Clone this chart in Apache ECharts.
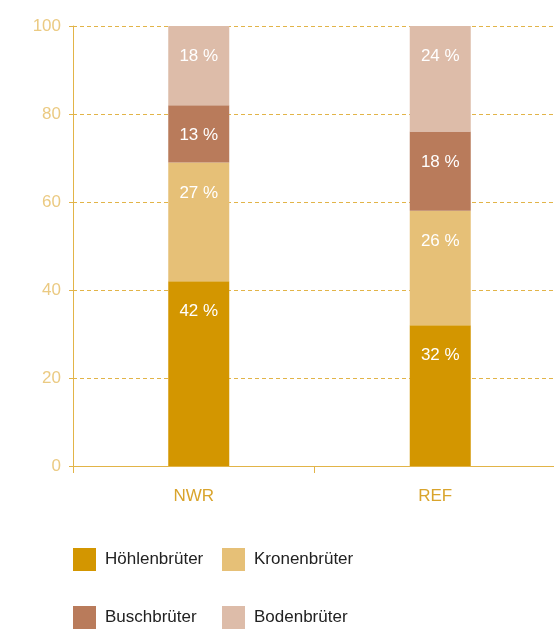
<!DOCTYPE html>
<html>
<head>
<meta charset="utf-8">
<script src="https://cdn.jsdelivr.net/npm/echarts@6/dist/echarts.min.js"></script>
<style>
html,body{margin:0;padding:0;background:#fff;overflow:hidden;}
#chart{width:562px;height:632px;}
</style>
</head>
<body>
<div id="chart"></div>
<script>
var categories = ['NWR', 'REF'];
var seriesNames = ['Höhlenbrüter', 'Kronenbrüter', 'Buschbrüter', 'Bodenbrüter'];
var hoehlen = [42, 32];
var kronen = [27, 26];
var busch = [13, 18];
var boden = [18, 24];
var yTicks = [0, 20, 40, 60, 80, 100];

var colors = ['#d39600', '#e6c077', '#b97b5b', '#ddbca9'];
var FONT = '"Liberation Sans", Arial, sans-serif';
var values = [hoehlen, kronen, busch, boden];
var GOLD = '#e2b448';

var chart = echarts.init(document.getElementById('chart'), null, {renderer: 'canvas'});

// empty spacer stack: draws nothing, only nudges the real stack slightly right of the band centre
var series = [{
  name: 'spacer',
  type: 'bar',
  stack: 'spacer',
  barWidth: 61,
  barGap: '-83.6%',
  data: [null, null],
  silent: true,
  label: {show: false}
}];

seriesNames.forEach(function (name, i) {
  series.push({
    name: name,
    type: 'bar',
    stack: 'total',
    barWidth: 61,
    barGap: '-83.6%',
    data: values[i],
    itemStyle: {color: colors[i]},
    label: {
      show: true,
      position: 'insideTop',
      distance: 22,
      formatter: '{c} %',
      color: '#ffffff',
      fontSize: 17,
      fontFamily: FONT
    },
    emphasis: {disabled: true}
  });
});

var legendCommon = {
  orient: 'vertical',
  icon: 'rect',
  itemWidth: 23,
  itemHeight: 23,
  itemGap: 35,
  padding: 0,
  top: 548,
  selectedMode: false,
  textStyle: {color: '#222222', fontSize: 17, fontFamily: FONT, padding: [0, 0, 0, 4]}
};

chart.setOption({
  animation: false,
  color: colors,
  textStyle: {fontFamily: FONT},
  grid: {left: 73, width: 483, top: 26, height: 440, containLabel: false},
  legend: [
    Object.assign({}, legendCommon, {left: 73, data: [seriesNames[0], seriesNames[2]]}),
    Object.assign({}, legendCommon, {left: 222, data: [seriesNames[1], seriesNames[3]]})
  ],
  xAxis: {
    type: 'category',
    data: categories,
    axisLine: {show: true, lineStyle: {color: GOLD, width: 1}},
    axisTick: {show: true, length: 7, lineStyle: {color: GOLD}},
    axisLabel: {color: '#d9a42c', fontSize: 17, fontFamily: FONT, margin: 22},
    splitLine: {show: false}
  },
  yAxis: {
    type: 'value',
    min: 0,
    max: 100,
    interval: 20,
    axisLine: {show: true, lineStyle: {color: GOLD, width: 1}},
    axisTick: {show: true, length: 6, lineStyle: {color: GOLD, type: [4, 3]}},
    axisLabel: {
      color: '#ebca82', fontSize: 17, fontFamily: FONT, margin: 12,
      formatter: function (v) { return yTicks.indexOf(v) >= 0 ? String(v) : ''; }
    },
    splitLine: {show: true, lineStyle: {color: GOLD, type: [4, 3], width: 1}}
  },
  series: series
});
</script>
</body>
</html>
